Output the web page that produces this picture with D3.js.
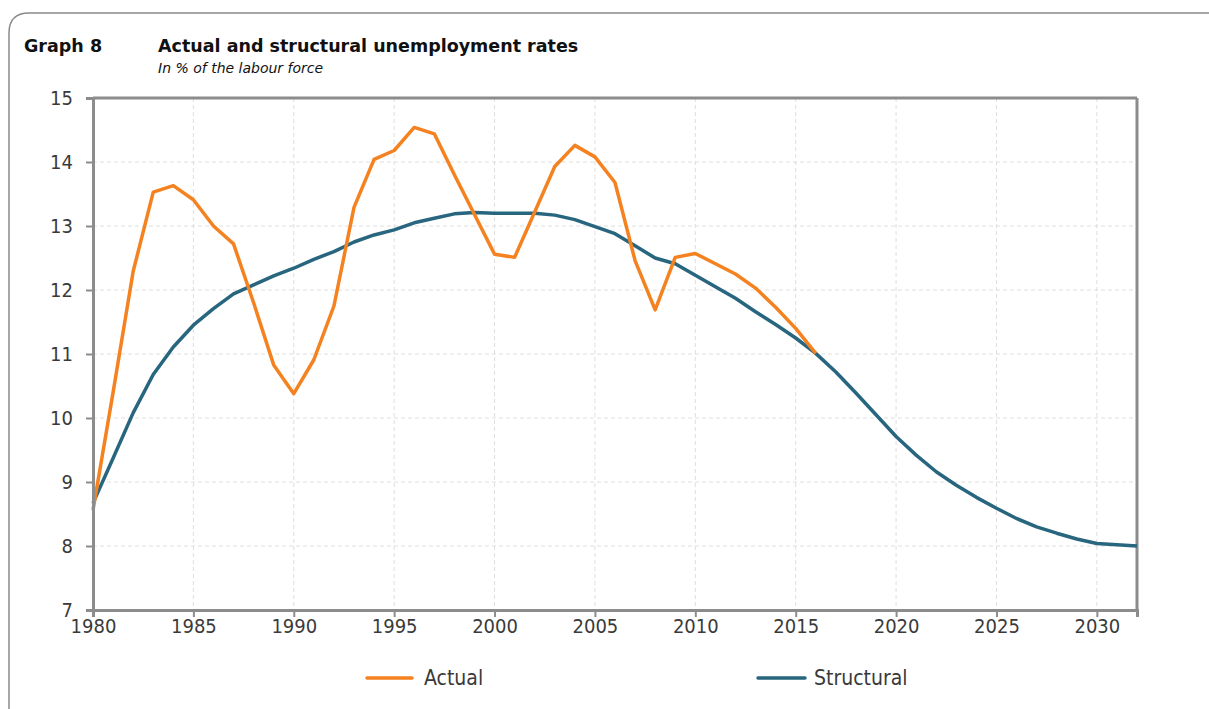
<!DOCTYPE html>
<html><head><meta charset="utf-8">
<script src="https://cdn.jsdelivr.net/npm/d3@7"></script>
<style>body{margin:0;background:#fff}svg{display:block}</style>
</head><body>
<svg id="c" width="1209" height="709"></svg>
<script>
const actualYears = d3.range(1980, 2017);
const actualValues = [8.56,10.4,12.29,13.53,13.63,13.41,13.0,12.72,11.8,10.83,10.38,10.91,11.75,13.29,14.04,14.18,14.54,14.44,13.8,13.18,12.56,12.51,13.22,13.93,14.26,14.08,13.68,12.46,11.69,12.51,12.57,12.41,12.25,12.03,11.73,11.40,11.01];
const structuralYears = d3.range(1980, 2033);
const structuralValues = [8.67,9.37,10.08,10.68,11.11,11.45,11.71,11.94,12.08,12.22,12.34,12.48,12.60,12.75,12.86,12.94,13.05,13.12,13.19,13.21,13.20,13.20,13.20,13.17,13.10,12.99,12.88,12.69,12.50,12.41,12.23,12.05,11.87,11.66,11.46,11.25,11.01,10.72,10.39,10.05,9.71,9.42,9.16,8.95,8.76,8.59,8.43,8.30,8.20,8.11,8.04,8.02,8.00];
const yTicks = [7,8,9,10,11,12,13,14,15];
const xTicks = [1980,1985,1990,1995,2000,2005,2010,2015,2020,2025,2030];
const seriesNames = ["Actual","Structural"];
const colors = ["#f58220","#27667e"];

const svg = d3.select("#c");
const font = "'DejaVu Sans',sans-serif";
const cfont = "'DejaVu Sans Condensed','DejaVu Sans',sans-serif";

// frame
svg.append("path").attr("d","M9,709 L9,33 Q9,13 29,13 L1209,13")
  .attr("fill","none").attr("stroke","#8a8a8a").attr("stroke-width",1.5);

svg.append("text").attr("x",24).attr("y",52).text("Graph 8")
  .attr("font-family",font).attr("font-weight","bold").attr("font-size",17.5).attr("fill","#111");
svg.append("text").attr("x",158).attr("y",52).text("Actual and structural unemployment rates")
  .attr("font-family",font).attr("font-weight","bold").attr("font-size",17.5).attr("fill","#111");
svg.append("text").attr("x",158).attr("y",73).text("In % of the labour force")
  .attr("font-family",font).attr("font-style","italic").attr("font-size",14).attr("fill","#111");

const x = d3.scaleLinear().domain([1980,2032]).range([93,1137]);
const y = d3.scaleLinear().domain([7,15]).range([610,98]);

// grid
const g = svg.append("g");
g.selectAll(".hg").data(yTicks.slice(1,-1)).join("line")
  .attr("x1",93).attr("x2",1137).attr("y1",d=>y(d)).attr("y2",d=>y(d))
  .attr("stroke","#dedede").attr("stroke-dasharray","4,3").attr("stroke-width",1);
g.selectAll(".vg").data(xTicks.slice(1)).join("line")
  .attr("y1",98).attr("y2",610).attr("x1",d=>x(d)).attr("x2",d=>x(d))
  .attr("stroke","#dedede").attr("stroke-dasharray","4,3").attr("stroke-width",1);

// box top/right
svg.append("line").attr("x1",93).attr("x2",1137).attr("y1",98).attr("y2",98).attr("stroke","#8c8c8c").attr("stroke-width",3);
svg.append("line").attr("x1",1137).attr("x2",1137).attr("y1",98).attr("y2",610).attr("stroke","#8c8c8c").attr("stroke-width",3);

// lines
const line = d3.line().x(d=>x(d[0])).y(d=>y(d[1]));
svg.append("path").datum(structuralYears.map((yr,i)=>[yr,structuralValues[i]]))
  .attr("d",line).attr("fill","none").attr("stroke",colors[1]).attr("stroke-width",3.5).attr("stroke-linejoin","round");
svg.append("path").datum(actualYears.map((yr,i)=>[yr,actualValues[i]]))
  .attr("d",line).attr("fill","none").attr("stroke",colors[0]).attr("stroke-width",3.5).attr("stroke-linejoin","round");

// axes
const ya = svg.append("g").attr("transform","translate(93,0)")
  .call(d3.axisLeft(y).tickValues(yTicks).tickSize(7).tickPadding(13));
const xa = svg.append("g").attr("transform","translate(0,610)")
  .call(d3.axisBottom(x).tickValues(xTicks).tickSize(7).tickPadding(2).tickFormat(d3.format("d")));
[ya,xa].forEach(a=>{
  a.select(".domain").attr("stroke","#8c8c8c").attr("stroke-width",3);
  a.selectAll(".tick line").attr("stroke","#8c8c8c").attr("stroke-width",2);
  a.selectAll("text").attr("font-family",cfont).attr("font-size",20).attr("fill","#3a3a3a");
});

// legend
const leg = [[367,412,424],[758,805,814]];
seriesNames.forEach((n,i)=>{
  svg.append("line").attr("x1",leg[i][0]).attr("x2",leg[i][1]).attr("y1",678).attr("y2",678)
    .attr("stroke",colors[i]).attr("stroke-width",3.5).attr("stroke-linecap","round");
  svg.append("text").attr("x",leg[i][2]).attr("y",685).text(n)
    .attr("font-family",cfont).attr("font-size",21).attr("fill","#3a3a3a");
});
</script>
</body></html>
